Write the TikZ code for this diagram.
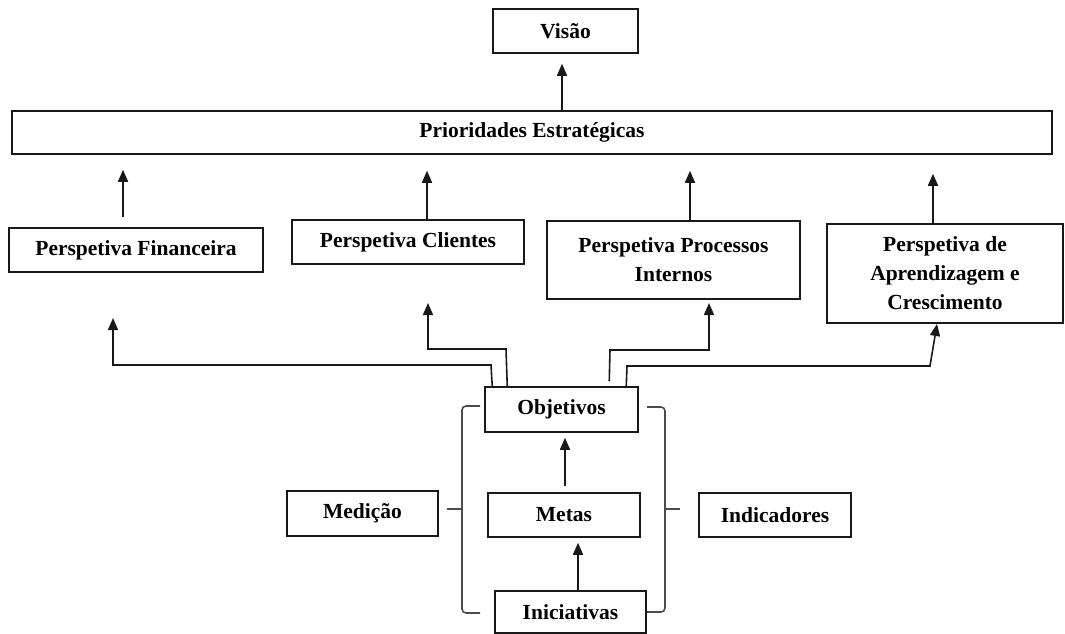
\documentclass[tikz,border=0pt]{standalone}
\usepackage{fontspec}
\setmainfont{Liberation Serif}
\usetikzlibrary{arrows.meta}
\tikzset{
  box/.style={draw=black!90, line width=1.5pt, inner sep=0pt, align=center,
    font=\bfseries\fontsize{21.5}{29}\selectfont},
  arr/.style={line width=1.6pt, draw=black!90, -{Triangle[length=12pt,width=10pt]}},
  bracket/.style={line width=1.6pt, draw=black!70, rounded corners=4pt},
  tick/.style={line width=1.6pt, draw=black!70}
}
\begin{document}
\begin{tikzpicture}[x=1pt,y=-1pt]
\useasboundingbox (0,0) rectangle (1065,634);

% boxes
\node[box, minimum width=145pt, minimum height=44pt]  (vis)   at (565.5,31)   {Visão};
\node[box, minimum width=1040pt, minimum height=43pt] (prio)  at (532,132.5)  {Prioridades Estratégicas};
\node[box, minimum width=254pt, minimum height=44pt]  (fin)   at (136,250)    {Perspetiva Financeira};
\node[box, minimum width=232pt, minimum height=44pt]  (cli)   at (408,242)    {Perspetiva Clientes};
\node[box, minimum width=253pt, minimum height=78pt]  (proc)  at (673.5,260)  {Perspetiva Processos\\Internos};
\node[box, minimum width=236pt, minimum height=99pt]  (apr)   at (945,273.5)  {Perspetiva de\\Aprendizagem e\\Crescimento};
\node[box, minimum width=153pt, minimum height=45pt]  (obj)   at (561.5,409.5){Objetivos};
\node[box, minimum width=152pt, minimum height=44pt]  (metas) at (564,515)    {Metas};
\node[box, minimum width=151pt, minimum height=42pt]  (ini)   at (570.5,612)  {Iniciativas};
\node[box, minimum width=151pt, minimum height=45pt]  (med)   at (362.5,513.5){Medição};
\node[box, minimum width=152pt, minimum height=44pt]  (ind)   at (775,515)    {Indicadores};

% upward links to the strategic priorities and the vision
\draw[arr, shorten >=10pt] (prio.north -| 562,0) -- (vis.south -| 562,0);
\draw[arr, shorten <=10pt, shorten >=15pt] (fin.north -| 123,0) -- (prio.south -| 123,0);
\draw[arr, shorten >=16pt] (cli.north -| 427,0) -- (prio.south -| 427,0);
\draw[arr, shorten >=16pt] (proc.north -| 690,0) -- (prio.south -| 690,0);
\draw[arr, shorten >=19pt] (apr.north -| 933,0) -- (prio.south -| 933,0);

% objectives feeding each perspective
\coordinate (finend) at (113,318);
\coordinate (cliend) at (428,303);
\coordinate (procend) at (709,303);
\coordinate (aprend) at (937,324);
\draw[arr] ([xshift=8pt]obj.north west) -- (491,365) -- (113,365) -- (finend);
\draw[arr] ([xshift=23pt]obj.north west) -- (506,349) -- (428,349) -- (cliend);
\draw[arr] ([xshift=125pt,yshift=5pt]obj.north west) -- (610,350) -- (709,350) -- (procend);
\draw[arr] ([xshift=142pt]obj.north west) -- (627,366) -- (930,366) -- (aprend);

% inner chain
\draw[arr, shorten <=6pt, shorten >=5pt] (metas.north -| 565,0) -- (obj.south -| 565,0);
\draw[arr, shorten >=5pt] (ini.north -| 578,0) -- (metas.south -| 578,0);

% braces grouping objectives, goals and initiatives
\draw[bracket] (480,406) -- (462,406) -- (462,613) -- (480,613);
\draw[tick] (462,509) -- (447,509);
\draw[bracket] (647,407) -- (665,407) -- (665,612) -- (647,612);
\draw[tick] (665,509) -- (680,509);
\end{tikzpicture}
\end{document}
